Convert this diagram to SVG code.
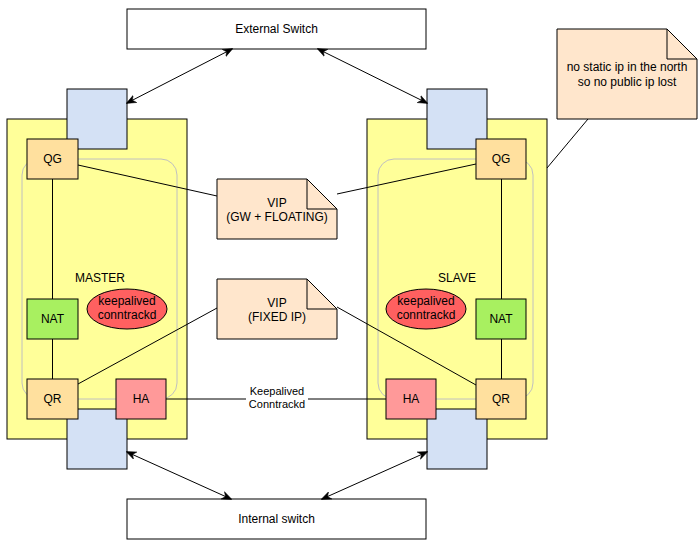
<svg xmlns="http://www.w3.org/2000/svg" width="699" height="544" viewBox="0 0 699 544">
<defs>
<style>
text{font-family:"Liberation Sans",Arial,sans-serif;font-size:12px;fill:#000;text-anchor:middle}
.sw{fill:#fff;stroke:#000;stroke-width:1}
.host{fill:#ffff99;stroke:#000;stroke-width:1}
.grp{fill:none;stroke:#c0c0c0;stroke-width:1}
.port{fill:#d4e1f5;stroke:#000;stroke-width:1}
.q{fill:#ffe09e;stroke:#000;stroke-width:1}
.nat{fill:#a8f060;stroke:#000;stroke-width:1}
.ha{fill:#ff9999;stroke:#000;stroke-width:1}
.el{fill:#ff6060;stroke:#000;stroke-width:1}
.note{fill:#ffe6cc;stroke:#000;stroke-width:1}
.ln{fill:none;stroke:#000;stroke-width:1}
.ar{fill:none;stroke:#000;stroke-width:1;marker-start:url(#ah);marker-end:url(#ah)}
</style>
<marker id="ah" viewBox="0 0 10 10" refX="9" refY="5" markerWidth="10" markerHeight="10" markerUnits="userSpaceOnUse" orient="auto-start-reverse">
<path d="M0,1 L10,5 L0,9 L3,5 Z" fill="#000" stroke="#000" stroke-width="0.5"/>
</marker>
</defs>
<rect width="699" height="544" fill="#fff"/>

<g id="external-switch"><rect class="sw" x="127" y="9" width="299" height="40"/><text x="276.5" y="33">External Switch</text></g>
<g id="internal-switch"><rect class="sw" x="127" y="499" width="299" height="40"/><text x="276.5" y="523">Internal switch</text></g>

<g id="master">
<rect class="host" x="7" y="119" width="180" height="320"/>
<rect class="grp" x="22" y="159" width="155" height="240" rx="16"/>
<text x="100" y="282">MASTER</text>
</g>
<g id="slave">
<rect class="host" x="367" y="119" width="180" height="320"/>
<rect class="grp" x="378" y="159" width="155" height="240" rx="16"/>
<text x="457" y="282">SLAVE</text>
</g>

<g id="master-port-top"><rect class="port" x="67" y="89" width="60" height="60"/></g>
<g id="master-port-bottom"><rect class="port" x="67" y="409" width="60" height="60"/></g>
<g id="slave-port-top"><rect class="port" x="427" y="89" width="60" height="60"/></g>
<g id="slave-port-bottom"><rect class="port" x="427" y="409" width="60" height="60"/></g>

<g id="connectors">
<line class="ln" x1="52.5" y1="179" x2="52.5" y2="299"/>
<line class="ln" x1="52.5" y1="339" x2="52.5" y2="379"/>
<line class="ln" x1="501.5" y1="179" x2="501.5" y2="299"/>
<line class="ln" x1="501.5" y1="339" x2="501.5" y2="379"/>
<line class="ln" x1="78" y1="165" x2="217" y2="196"/>
<line class="ln" x1="337" y1="194" x2="476" y2="164"/>
<line class="ln" x1="78" y1="384" x2="217" y2="308"/>
<line class="ln" x1="337" y1="307" x2="476" y2="385"/>
<line class="ln" x1="588" y1="119" x2="547" y2="168"/>
<line class="ln" x1="166" y1="399" x2="386" y2="399"/>
<rect x="246" y="383" width="62" height="27" fill="#fff"/>
<text x="277" y="395" style="font-size:11px">Keepalived</text>
<text x="277" y="408" style="font-size:11px">Conntrackd</text>
<line class="ar" x1="232" y1="49" x2="127" y2="103"/>
<line class="ar" x1="318" y1="49" x2="427" y2="103"/>
<line class="ar" x1="127" y1="452" x2="231" y2="499"/>
<line class="ar" x1="427" y1="452" x2="322" y2="499"/>
</g>

<g id="master-qg"><rect class="q" x="27" y="139" width="51" height="40"/><text x="52.5" y="163">QG</text></g>
<g id="master-nat"><rect class="nat" x="27" y="299" width="51" height="40"/><text x="52.5" y="323">NAT</text></g>
<g id="master-qr"><rect class="q" x="27" y="379" width="51" height="40"/><text x="52.5" y="403">QR</text></g>
<g id="master-ha"><rect class="ha" x="116" y="379" width="50" height="40"/><text x="141" y="403">HA</text></g>
<g id="master-keepalived"><ellipse class="el" cx="127" cy="309" rx="40" ry="20"/><text x="127" y="305">keepalived</text><text x="127" y="319">conntrackd</text></g>

<g id="slave-qg"><rect class="q" x="476" y="139" width="50" height="40"/><text x="501" y="163">QG</text></g>
<g id="slave-nat"><rect class="nat" x="476" y="299" width="50" height="40"/><text x="501" y="323">NAT</text></g>
<g id="slave-qr"><rect class="q" x="476" y="379" width="50" height="40"/><text x="501" y="403">QR</text></g>
<g id="slave-ha"><rect class="ha" x="386" y="379" width="50" height="40"/><text x="411" y="403">HA</text></g>
<g id="slave-keepalived"><ellipse class="el" cx="426" cy="309" rx="40" ry="20"/><text x="426" y="305">keepalived</text><text x="426" y="319">conntrackd</text></g>

<g id="vip-gw"><path class="note" d="M217,179 H307 L337,209 V239 H217 Z"/><path class="ln" d="M307,179 V209 H337"/><text x="277" y="207">VIP</text><text x="277" y="221">(GW + FLOATING)</text></g>
<g id="vip-fixed"><path class="note" d="M217,279 H307 L337,309 V339 H217 Z"/><path class="ln" d="M307,279 V309 H337"/><text x="277" y="307">VIP</text><text x="277" y="321">(FIXED IP)</text></g>
<g id="note-north"><path class="note" d="M557,29 H667 L697,59 V119 H557 Z"/><path class="ln" d="M667,29 V59 H697"/><text x="627" y="71">no static ip in the north</text><text x="627" y="86">so no public ip lost</text></g>
</svg>
